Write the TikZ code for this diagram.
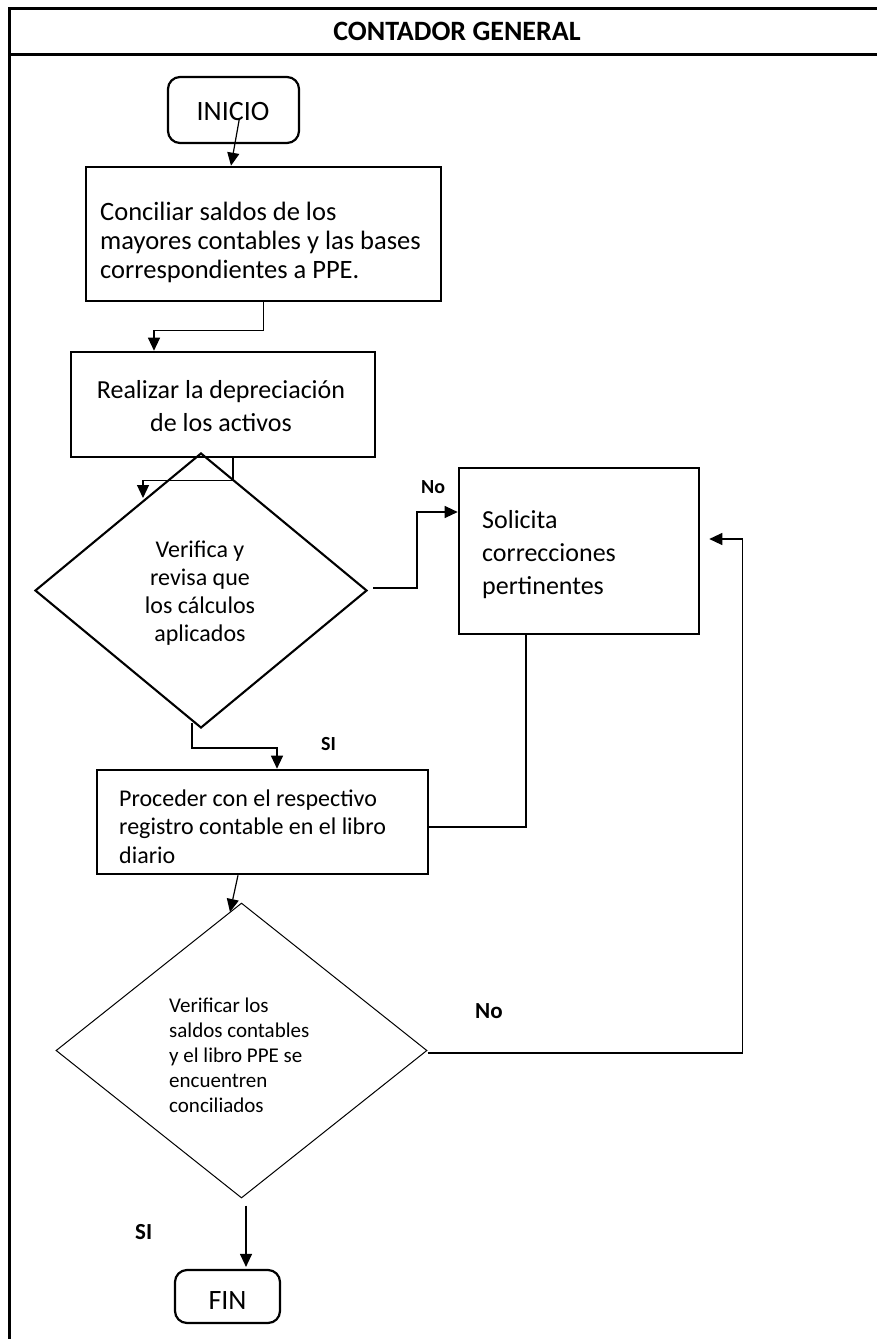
\documentclass[tikz,border=0pt]{standalone}
\usepackage{fontspec}
\setmainfont{Carlito}
\usetikzlibrary{shapes.geometric,arrows.meta}
\newcommand{\fs}[2]{\fontsize{#1}{#2}\selectfont}
% fixed first-line height, so that a text block's first baseline sits 24pt below its top
\newcommand{\topstrut}{\rule{0pt}{24pt}}
\begin{document}
\begin{tikzpicture}[x=1pt,y=-1pt,
  frame/.style={line width=3pt},
  procbox/.style={draw,rectangle,line width=2.6pt,inner sep=0pt},
  termbox/.style={draw,rectangle,line width=2.2pt,rounded corners=12pt,inner sep=0pt},
  decision/.style={draw,diamond,inner sep=0pt},
  link/.style={line width=1.2pt},
  arr/.style={link,-{Triangle[length=13pt,width=12pt]}},
  txtl/.style={anchor=north west,inner sep=0pt,align=left},
  txtc/.style={anchor=north,inner sep=0pt,align=center},
  lblsmall/.style={txtl,font=\bfseries\fs{20}{24}},
  lblbig/.style={txtl,font=\bfseries\fs{23}{27}}]

\useasboundingbox (0,0) rectangle (877,1339);

% swimlane frame and header
\draw[frame] (877,8) -- (9,8) -- (9,1339);
\draw[frame] (9,54) -- (877,54);
\node[txtc,font=\bfseries\fs{28}{32}] (lane) at (457,16) {\topstrut CONTADOR GENERAL};

% terminators
\node[termbox, minimum width=131pt, minimum height=66pt] (inicio) at (233.5,110) {};
\node[txtc,font=\fs{28}{34}] (inicio-t) at (233,96) {\topstrut INICIO};
\node[termbox, minimum width=105pt, minimum height=53pt] (fin) at (227.5,1296.5) {};
\node[txtc,font=\fs{28}{34}] (fin-t) at (227.5,1285) {\topstrut FIN};

% process steps
\node[procbox, minimum width=355pt, minimum height=134pt] (box1) at (263.5,234) {};
\node[txtl,font=\fs{26.5}{29}] (box1-t) at (100,196)
  {\topstrut Conciliar saldos de los\\mayores contables y las bases\\correspondientes a PPE.};
\node[procbox, minimum width=304pt, minimum height=105pt] (box2) at (223,404.5) {};
\node[txtc,font=\fs{26}{33}] (box2-t) at (221,374)
  {\topstrut Realizar la depreciación\\de los activos};
\node[procbox, minimum width=240pt, minimum height=166pt] (box3) at (579,551) {};
\node[txtl,font=\fs{26}{33}] (box3-t) at (482,504)
  {\topstrut Solicita\\correcciones\\pertinentes};
\node[procbox, minimum width=331pt, minimum height=104pt] (box4) at (262.5,822) {};
\node[txtl,font=\fs{24}{28.5}] (box4-t) at (119,782)
  {\topstrut Proceder con el respectivo\\registro contable en el libro\\diario};

% decisions
\node[decision, line width=2.1pt, minimum width=332pt, minimum height=275pt] (d1) at (201,590.5) {};
\node[txtc,font=\fs{24}{28}] (d1-t) at (200,533)
  {\topstrut Verifica y\\revisa que\\los cálculos\\aplicados};
\node[decision, line width=1pt, minimum width=371pt, minimum height=295pt] (d2) at (241.5,1050.5) {};
\node[txtl,font=\fs{21}{25}] (d2-t) at (169,988)
  {\topstrut Verificar los\\saldos contables\\y el libro PPE se\\encuentren\\conciliados};

% branch labels
\node[lblsmall] (no1) at (421,469) {\topstrut No};
\node[lblsmall] (si1) at (321,726) {\topstrut SI};
\node[lblbig] (no2) at (475,994) {\topstrut No};
\node[lblbig] (si2) at (135,1215) {\topstrut SI};

% connectors
\draw[arr] ([shift={(6,8)}]inicio.center) -- ([shift={(-32.5,0)}]box1.north);
\draw[arr] (box1.south) -- ++(0,28) -| ([shift={(-69,0)}]box2.north);
\draw[arr] ([shift={(10,0)}]box2.south) -- ++(0,22) -| ([shift={(-58,-92.5)}]d1.center);
\draw[arr] ([shift={(5,-2.5)}]d1.east) -- ++(44,0) |- ([shift={(0,-39)}]box3.west);
\draw[arr] ([shift={(-9,-6)}]d1.south) -- ++(0,25) -| ([shift={(14.5,0)}]box4.north);
\draw[link] ([shift={(-53,0)}]box3.south) |- ([shift={(0,5)}]box4.east);
\draw[arr] ([shift={(-24.5,0)}]box4.south) -- ([shift={(-11.5,-138.5)}]d2.center);
\draw[arr] ([shift={(0,2.5)}]d2.east) -- ++(315,0) |- ([shift={(9,-12)}]box3.east);
\draw[arr] ([shift={(4.5,7)}]d2.south) -- ([shift={(18.5,-2)}]fin.north);

\end{tikzpicture}
\end{document}
